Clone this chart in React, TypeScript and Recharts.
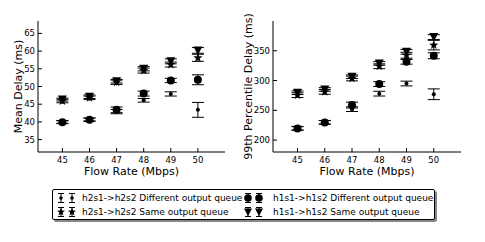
import React from 'react';
import { ScatterChart, Scatter, XAxis, YAxis, ErrorBar } from 'recharts';

const rates = [45, 46, 47, 48, 49, 50];

// mean delay (ms)
const meanH2Diff = [40.0, 40.7, 42.9, 46.1, 47.9, 43.4];
const meanH2DiffErr = [0.4, 0.4, 0.6, 0.5, 0.6, 2.1];
const meanH2Same = [45.9, 46.8, 51.2, 54.5, 56.2, 58.1];
const meanH2SameErr = [0.5, 0.5, 0.6, 0.7, 0.7, 1.0];
const meanH1Diff = [39.9, 40.6, 43.4, 48.0, 51.7, 51.9];
const meanH1DiffErr = [0.4, 0.5, 0.8, 0.7, 0.6, 1.4];
const meanH1Same = [46.3, 47.1, 51.5, 55.0, 57.1, 60.2];
const meanH1SameErr = [0.4, 0.5, 0.5, 0.6, 0.7, 0.8];
const meanTicks = [35, 40, 45, 50, 55, 60, 65];

// 99th percentile delay (ms)
const p99H2Diff = [220, 230, 252, 278, 295, 277];
const p99H2DiffErr = [3, 3, 4, 4, 4, 9];
const p99H2Same = [275.5, 281, 303.5, 324, 342.5, 359.5];
const p99H2SameErr = [4, 4, 4, 4, 5, 8];
const p99H1Diff = [219.5, 229.7, 258.8, 294, 331.5, 341.6];
const p99H1DiffErr = [3, 3, 5, 4, 4, 5];
const p99H1Same = [279.5, 285, 306.3, 328.8, 348.3, 373];
const p99H1SameErr = [3, 3, 3, 3, 4, 4];
const p99Ticks = [200, 250, 300, 350];

const FONT = '"DejaVu Sans", sans-serif';

const rows = (ys: number[], errs: number[]) =>
  rates.map((x, i) => ({ x, y: ys[i], err: errs[i] }));

const Dot = (p: any) => <circle cx={p.cx} cy={p.cy} r={2} fill="#000" />;
const BigDot = (p: any) => <circle cx={p.cx} cy={p.cy} r={4} fill="#000" />;
const TriDown = (p: any) => (
  <polygon
    points={`${p.cx - 4.5},${p.cy - 4} ${p.cx + 4.5},${p.cy - 4} ${p.cx},${p.cy + 4.5}`}
    fill="#000"
  />
);
const starPts = (cx: number, cy: number, ro: number, ri: number) => {
  const pts: string[] = [];
  for (let k = 0; k < 10; k++) {
    const r = k % 2 === 0 ? ro : ri;
    const a = -Math.PI / 2 + (k * Math.PI) / 5;
    pts.push(`${cx + r * Math.cos(a)},${cy + r * Math.sin(a)}`);
  }
  return pts.join(' ');
};
const Star = (p: any) => <polygon points={starPts(p.cx, p.cy, 4.8, 2)} fill="#000" />;

type PanelProps = {
  left: number;
  width: number;
  rightMargin: number;
  ylabel: string;
  yDomain: [number, number];
  yTicks: number[];
  labelOffset: number;
  series: { data: any[]; shape: any }[];
};

function Panel({ left, width, rightMargin, ylabel, yDomain, yTicks, labelOffset, series }: PanelProps) {
  const tickStyle = { fontSize: 8.5, fill: '#000', fontFamily: FONT };
  return (
    <div style={{ position: 'absolute', left, top: 0 }}>
      <ScatterChart width={width} height={185} margin={{ top: 21, right: rightMargin, bottom: 0, left: 0 }}>
        <XAxis
          xAxisId={0}
          type="number"
          dataKey="x"
          domain={[44.1, 51]}
          ticks={rates}
          interval={0}
          height={33}
          tickSize={-4}
          tickMargin={9}
          stroke="#000"
          tick={tickStyle}
          label={{ value: 'Flow Rate (Mbps)', position: 'insideBottom', offset: 10.5, style: { fontSize: 11, fill: '#000', fontFamily: FONT } }}
        />
        <XAxis xAxisId="top" orientation="top" type="number" domain={[44.1, 51]} ticks={rates} interval={0} height={0} tickSize={-4} stroke="#000" tick={false} />
        <YAxis
          yAxisId={0}
          type="number"
          dataKey="y"
          domain={yDomain}
          ticks={yTicks}
          interval={0}
          width={38}
          tickSize={-4}
          tickMargin={7}
          stroke="#000"
          tick={tickStyle}
          label={{ value: ylabel, angle: -90, position: 'insideLeft', offset: labelOffset, style: { textAnchor: 'middle', fontSize: 11, fill: '#000', fontFamily: FONT } }}
        />
        <YAxis yAxisId="right" orientation="right" type="number" domain={yDomain} ticks={yTicks} interval={0} width={0} tickSize={-4} stroke="#000" tick={false} />
        {series.map((s, i) => (
          <Scatter key={i} data={s.data} shape={s.shape} isAnimationActive={false}>
            <ErrorBar dataKey="err" direction="y" width={6} stroke="#000" strokeWidth={1} />
          </Scatter>
        ))}
      </ScatterChart>
    </div>
  );
}

const legendItems = [
  { label: 'h2s1->h2s2 Different output queue', shape: 'dot' },
  { label: 'h1s1->h1s2 Different output queue', shape: 'big' },
  { label: 'h2s1->h2s2 Same output queue', shape: 'star' },
  { label: 'h1s1->h1s2 Same output queue', shape: 'tri' },
];

function LegendMark({ shape, cx, cy }: { shape: string; cx: number; cy: number }) {
  const bar = (
    <g stroke="#000" strokeWidth={1}>
      <line x1={cx} y1={cy - 4.5} x2={cx} y2={cy + 4.5} />
      <line x1={cx - 3} y1={cy - 4.5} x2={cx + 3} y2={cy - 4.5} />
      <line x1={cx - 3} y1={cy + 4.5} x2={cx + 3} y2={cy + 4.5} />
    </g>
  );
  let m;
  if (shape === 'dot') m = <circle cx={cx} cy={cy} r={1.8} fill="#000" />;
  else if (shape === 'big') m = <circle cx={cx} cy={cy} r={3.8} fill="#000" />;
  else if (shape === 'star') m = <polygon points={starPts(cx, cy, 4.2, 1.8)} fill="#000" />;
  else m = <polygon points={`${cx - 4},${cy - 3.5} ${cx + 4},${cy - 3.5} ${cx},${cy + 4}`} fill="#000" />;
  return (
    <g>
      {bar}
      {m}
    </g>
  );
}

function Legend() {
  return (
    <div
      style={{
        position: 'absolute',
        left: 52,
        top: 189,
        width: 381,
        height: 29,
        border: '1px solid #000',
        borderRadius: 2,
        background: '#fff',
        boxShadow: '2px 2px 0 #888',
        fontFamily: FONT,
        fontSize: 9,
        color: '#000',
      }}
    >
      {legendItems.map((it, i) => {
        const col = i % 2;
        const row = Math.floor(i / 2);
        const x0 = col === 0 ? 3 : 190;
        return (
          <div key={i} style={{ position: 'absolute', left: x0, top: 1 + row * 14, height: 14, display: 'flex', alignItems: 'center', whiteSpace: 'nowrap' }}>
            <svg width={26} height={14} style={{ display: 'block' }}>
              <LegendMark shape={it.shape} cx={5} cy={7} />
              <LegendMark shape={it.shape} cx={16} cy={7} />
            </svg>
            <span style={{ marginLeft: col === 0 ? 0 : 4 }}>{it.label}</span>
          </div>
        );
      })}
    </div>
  );
}

export default function App() {
  const meanSeries = [
    { data: rows(meanH2Diff, meanH2DiffErr), shape: Dot },
    { data: rows(meanH2Same, meanH2SameErr), shape: Star },
    { data: rows(meanH1Diff, meanH1DiffErr), shape: BigDot },
    { data: rows(meanH1Same, meanH1SameErr), shape: TriDown },
  ];
  const p99Series = [
    { data: rows(p99H2Diff, p99H2DiffErr), shape: Dot },
    { data: rows(p99H2Same, p99H2SameErr), shape: Star },
    { data: rows(p99H1Diff, p99H1DiffErr), shape: BigDot },
    { data: rows(p99H1Same, p99H1SameErr), shape: TriDown },
  ];
  return (
    <div style={{ position: 'absolute', left: 0, top: 0, width: 485, height: 242, background: '#fff', overflow: 'hidden' }}>
      <Panel left={0} width={242} rightMargin={17} ylabel="Mean Delay (ms)" yDomain={[31.5, 68.5]} yTicks={meanTicks} labelOffset={18.5} series={meanSeries} />
      <Panel left={235} width={250} rightMargin={24} ylabel="99th Percentile Delay (ms)" yDomain={[180, 400]} yTicks={p99Ticks} labelOffset={13} series={p99Series} />
      <Legend />
    </div>
  );
}
